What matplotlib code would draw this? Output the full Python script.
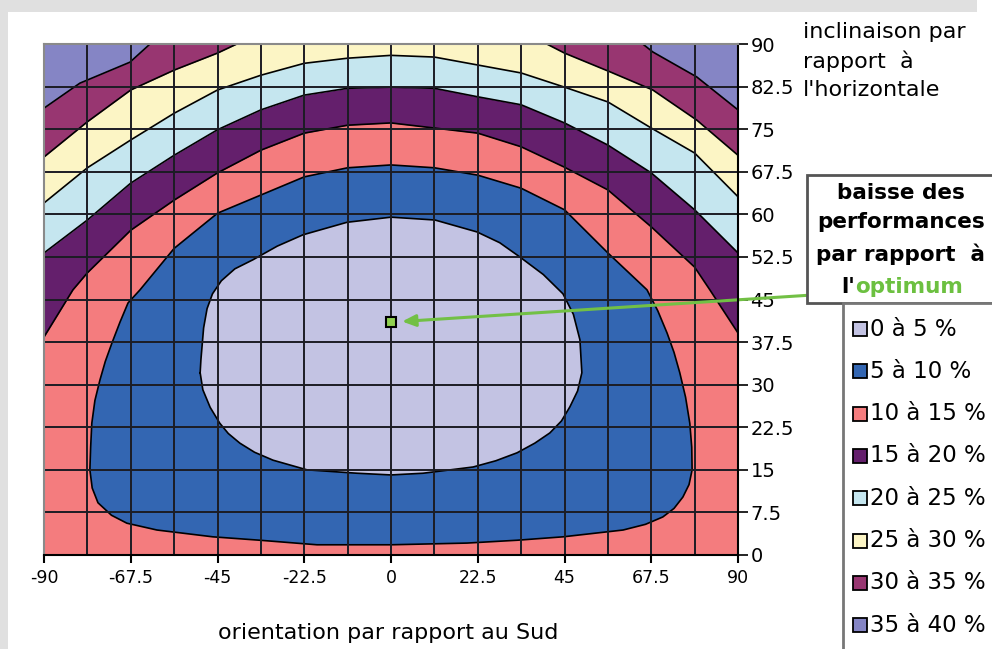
import numpy as np
import matplotlib.pyplot as plt
from matplotlib.patches import Rectangle
from matplotlib.ticker import MultipleLocator

# iso-lines of performance loss (orientation in deg, tilt in deg)
c35_orient = [-90, -80.7, -67.7, -62.5, 65.3, 67.9, 79.3, 90]
c35_tilt = [78.7, 83.1, 86.8, 90, 90, 88.6, 84.2, 78.4]

c30_orient = [-90, -78.75, -67.5, -56.25, -45, -40, 40.4, 45, 56.8, 67.9, 79.3, 90]
c30_tilt = [70.1, 76.3, 81.9, 85.4, 88.4, 90, 90, 88.4, 85.1, 81.9, 76.6, 70.4]

arc_orient = [-90, -78.75, -67.5, -56.25, -45, -33.75, -22.5, -11.25, 0,
              11.25, 22.5, 33.75, 45, 56.25, 67.5, 78.75, 90]
c25_tilt = [62.0, 68.2, 73.1, 77.8, 81.9, 84.5, 86.6, 87.5, 88.0,
            87.7, 86.3, 84.9, 82.4, 79.8, 75.2, 70.8, 63.1]
c20_tilt = [53.2, 59.0, 65.5, 70.4, 74.9, 78.4, 81.0, 82.2, 82.4,
            82.2, 80.7, 79.3, 76.1, 72.2, 67.3, 60.8, 53.2]

c15_orient = [-90, -82.5, -78.75, -67.5, -56.25, -45, -33.75, -22.5, -11.25, 0,
              11.25, 22.5, 33.75, 45, 56.25, 67.5, 78.75, 82.7, 90]
c15_tilt = [38.4, 46.7, 49.7, 57.2, 62.5, 67.3, 71.3, 74.3, 75.7, 76.1,
            75.2, 74.3, 71.9, 68.3, 64.3, 57.8, 50.7, 46.7, 39.1]

c10_orient = [-78.1, -77.9, -77.6, -76.8, -75.5, -74.1, -72.4, -70.3, -68.2, -65.1,
              -56.25, -45, -33.75, -22.5, -11.25, 0, 11.25, 22.5, 33.75, 45, 56.25,
              66.4, 69.2, 71.6, 73.4, 74.9, 76.4, 77.5, 78.0, 78.1, 77.3, 75.7,
              73.4, 70.5, 66.0, 60.2, 44.6, 32.7, 19.7, 0, -19.2, -34, -46.2,
              -60.7, -68.5, -72.5, -76, -77.5]
c10_tilt = [15.0, 19.0, 23.2, 27.2, 30.8, 34.1, 37.3, 41.0, 44.4, 46.7,
            54.0, 60.2, 63.4, 66.6, 68.2, 68.7, 68.2, 66.9, 64.6, 60.8, 53.2,
            46.7, 43.0, 39.1, 35.7, 32.1, 27.8, 23.2, 19.0, 15.0, 12.4, 10.2,
            8.2, 6.7, 5.4, 4.4, 3.2, 2.6, 2.1, 1.8, 1.8, 2.6, 3.2,
            4.4, 5.6, 7.0, 9.2, 11.8]

c5_orient = [-49.5, -49.3, -48.6, -47.7, -46.3, -44, -40.5, -35.8, -29.5, -22.8,
             -11.4, 0, 11.4, 22.3, 28.2, 33.4, 39.5, 44.6, 47.3, 49, 49.5, 48.4,
             46.4, 44.2, 41.2, 37.3, 32.7, 27.2, 21.3, 8.3, 0, -8.8, -21.8,
             -30.6, -35.4, -39.2, -42.2, -44.4, -46.9, -48.8]
c5_tilt = [32.1, 34.4, 40.0, 43.4, 46.0, 48.3, 50.4, 52.0, 54.4, 56.4,
           58.6, 59.5, 59.0, 56.9, 55.0, 52.5, 49.4, 46.0, 42.4, 37.9, 32.1, 28.9,
           26.1, 23.6, 21.5, 19.7, 18.0, 16.6, 15.5, 14.4, 14.1, 14.4, 15.0,
           16.7, 18.1, 19.7, 21.4, 23.2, 26.0, 29.1]

optimum_orient = 0
optimum_tilt = 41

legend_labels = ['0 à 5 %', '5 à 10 %', '10 à 15 %', '15 à 20 %',
                 '20 à 25 %', '25 à 30 %', '30 à 35 %', '35 à 40 %']
legend_colors = ['#c3c3e3', '#3366b2', '#f47c7e', '#641f6c',
                 '#c5e6ef', '#fcf5c5', '#983671', '#8585c5']

orient_ticks = [-90, -67.5, -45, -22.5, 0, 22.5, 45, 67.5, 90]
orient_labels = ['-90', '-67.5', '-45', '-22.5', '0', '22.5', '45', '67.5', '90']
tilt_ticks = [0, 7.5, 15, 22.5, 30, 37.5, 45, 52.5, 60, 67.5, 75, 82.5, 90]
tilt_labels = ['0', '7.5', '15', '22.5', '30', '37.5', '45', '52.5', '60',
               '67.5', '75', '82.5', '90']

W, H = 992, 649


def fx(px):
    return px / W


def fy(py):
    return 1 - py / H


fig = plt.figure(figsize=(9.92, 6.49), dpi=100, facecolor='#e0e0e0')
fig.add_artist(Rectangle((fx(8), 0), 1, fy(12), transform=fig.transFigure,
                         fc='white', ec='none', zorder=0))
fig.add_artist(Rectangle((fx(977), fy(13)), 1, 14 / H, transform=fig.transFigure,
                         fc='white', ec='none', zorder=0))

ax = fig.add_axes([fx(44), fy(555), (738 - 44) / W, (555 - 44) / H])
ax.set_xlim(-90, 90)
ax.set_ylim(0, 90)
ax.set_facecolor(legend_colors[7])

# nested regions, from highest loss to lowest
ax.fill_between(c35_orient, 0, c35_tilt, color=legend_colors[6], lw=0)
ax.fill_between(c30_orient, 0, c30_tilt, color=legend_colors[5], lw=0)
ax.fill_between(arc_orient, 0, c25_tilt, color=legend_colors[4], lw=0)
ax.fill_between(arc_orient, 0, c20_tilt, color=legend_colors[3], lw=0)
ax.fill_between(c15_orient, 0, c15_tilt, color=legend_colors[2], lw=0)
ax.fill(c10_orient, c10_tilt, color=legend_colors[1], lw=0)
ax.fill(c5_orient, c5_tilt, color=legend_colors[0], lw=0)

for xs, ys in [(c35_orient, c35_tilt), (c30_orient, c30_tilt), (arc_orient, c25_tilt),
               (arc_orient, c20_tilt), (c15_orient, c15_tilt)]:
    ax.plot(xs, ys, color='black', lw=1.2)
for xs, ys in [(c10_orient, c10_tilt), (c5_orient, c5_tilt)]:
    ax.plot(xs + xs[:1], ys + ys[:1], color='black', lw=1.2)

ax.set_xticks(orient_ticks)
ax.set_xticklabels(orient_labels)
ax.xaxis.set_minor_locator(MultipleLocator(11.25))
ax.yaxis.tick_right()
ax.set_yticks(tilt_ticks)
ax.set_yticklabels(tilt_labels)
ax.tick_params(axis='x', which='major', length=6, width=1.5, labelsize=12.5, pad=4)
ax.tick_params(axis='x', which='minor', length=0)
ax.tick_params(axis='y', length=7, width=1.2, labelsize=14, pad=2)
ax.set_axisbelow(False)
ax.grid(True, which='both', axis='x', color='#1c1c24', lw=1.4)
ax.grid(True, which='major', axis='y', color='#1c1c24', lw=1.4)

for side in ['left', 'top']:
    ax.spines[side].set_color('#8a8a8a')
    ax.spines[side].set_linewidth(1.5)
for side in ['right', 'bottom']:
    ax.spines[side].set_color('black')
    ax.spines[side].set_linewidth(1.5)
for sp in ax.spines.values():
    sp.set_zorder(10)

ax.plot(optimum_orient, optimum_tilt, marker='s', ms=7, mfc='#90d050',
        mec='black', mew=1.5, zorder=6)
ax.annotate('', xy=(optimum_orient, optimum_tilt), xytext=(fx(828), fy(294)),
            textcoords='figure fraction', annotation_clip=False, zorder=7,
            arrowprops=dict(arrowstyle='-|>,head_length=0.8,head_width=0.35',
                            color='#72c045', lw=2.2, shrinkA=0, shrinkB=8))

fig.text(fx(388), fy(633), 'orientation par rapport au Sud', ha='center',
         va='center', fontsize=16)
fig.text(fx(803), fy(22), "inclinaison par\nrapport  à\nl'horizontale",
         ha='left', va='top', fontsize=16, linespacing=1.5)

# title box of the legend
fig.add_artist(Rectangle((fx(807), fy(303)), 1, (303 - 175) / H, transform=fig.transFigure,
                         fc='white', ec='#555555', lw=2, zorder=1))
for txt, yy in [('baisse des', 193), ('performances', 222), ('par rapport  à', 254)]:
    fig.text(fx(901), fy(yy), txt, ha='center', va='center', fontsize=15.5,
             fontweight='bold', zorder=3)
fig.text(fx(855), fy(287), "l'", ha='right', va='center', fontsize=15.5,
         fontweight='bold', zorder=3)
fig.text(fx(855), fy(287), 'optimum', ha='left', va='center', fontsize=15.5,
         fontweight='bold', color='#6cc040', zorder=3)

# legend box
fig.add_artist(Rectangle((fx(843), fy(660)), 1, (660 - 303) / H, transform=fig.transFigure,
                         fc='white', ec='#777777', lw=2, zorder=1))
for i, (lab, col) in enumerate(zip(legend_labels, legend_colors)):
    yy = 329 + 42.3 * i
    fig.add_artist(Rectangle((fx(853), fy(yy + 7)), 14 / W, 14 / H,
                             transform=fig.transFigure, fc=col, ec='black',
                             lw=1.3, zorder=3))
    fig.text(fx(870), fy(yy), lab, ha='left', va='center', fontsize=16.5, zorder=3)

fig.savefig('out.png', dpi=100, facecolor=fig.get_facecolor())
